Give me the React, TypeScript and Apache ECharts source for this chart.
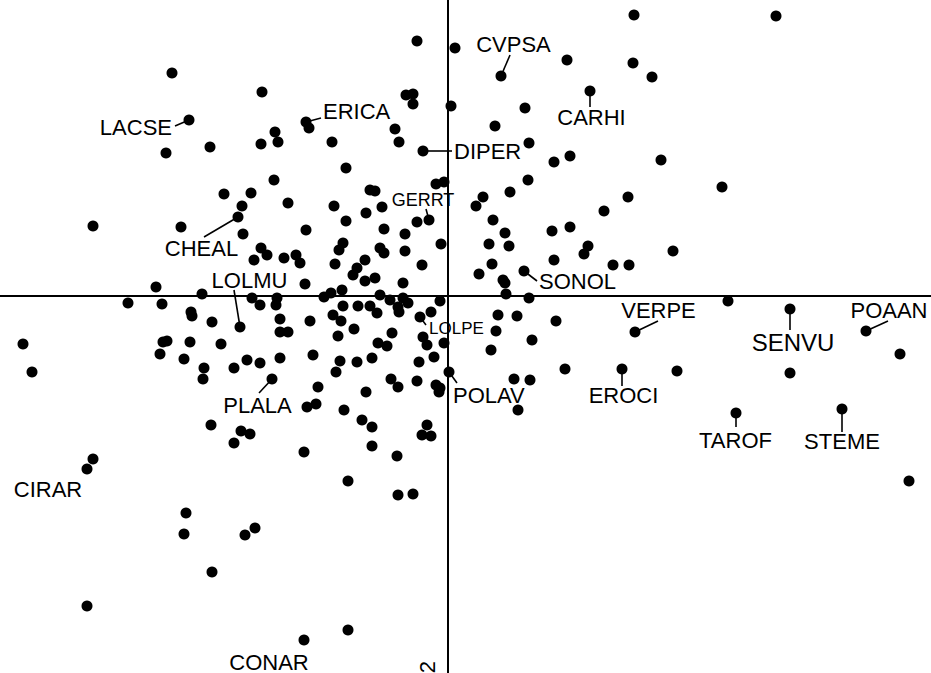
import React, { useEffect, useRef } from "react";
import * as echarts from "echarts";

// Site scores (unlabelled points)
const siteX = [
  -2.76, -2.82, -2.38, -2.24, -3.55, -2.67, -0.31, 0.07, -1.86, -0.42, -0.35, -0.35, 0.03, -1.39, -1.73, -1.87, -1.70, -1.16, -0.53, -0.49,
  -1.02, -1.74, -1.97, -2.06, -1.60, -1.14, -0.78, -0.73, -0.12, -0.04, -0.66, -0.82, -1.02, -0.31, 1.86, 1.19, 1.85, 2.04, 0.77, 0.47,
  0.81, 1.06, 1.22, 2.13, 0.80, 0.62, 0.35, 0.28, 0.45, 1.80, 1.56, 1.22, 3.28, 2.74,
  -2.92, -3.20, -2.86, -2.46, -2.57, -2.56, -2.36, -4.25, -2.85, -2.81, -2.58, -2.27, -2.88, -2.64, -2.44, -2.45, -4.16, -2.14, -2.37, -2.14,
  -2.05, -1.42, -0.64, -0.43, -1.87, -1.81, -1.94, -1.64, -1.52, -1.48, -1.13, -1.05, -1.09, -0.68, -0.64, -0.43, -0.83, -0.91, -0.95, -0.83,
  -0.73, -0.26, -0.07, -1.43, -0.45, -1.96, -1.88, -1.71, -1.72, -1.24, -1.17, -1.06, -1.05, -1.15, -1.07, -0.90, -0.78, -0.71, -0.68, -0.58,
  -0.50, -0.49, -0.45, -0.40, -0.17, -0.08, -1.68, -1.68, -1.60, -1.38, -0.94, -1.10, -0.56, -0.25, -0.21, -0.04, -0.70, -0.61, -1.35, -1.68,
  -2.01, -1.88, -1.08, -0.91, -0.76, -0.29, -0.14, -1.12, -0.57, -0.50, -0.31, -0.12, -0.08, -0.09, -1.30, -0.82, -1.41, -1.32, -1.04, -0.86,
  -0.76, -0.21, -0.26, -0.17, -2.07, -1.98, -0.76, -1.44,
  0.57, 1.04, 0.41, 0.61, 1.40, 1.36, 2.25, 0.44, 1.06, 1.65, 1.81, 0.31, 0.55, 0.57, 0.58, 0.81, 0.50, 0.69, 1.08, 0.48,
  0.84, 0.43, 1.17, 2.29, 0.66, 0.82, 0.70,
  2.80, 4.52, 3.42,
  -3.55, -2.62, -2.64, -2.36, -3.61,
  -0.51, -1.00, -0.50, -0.35, -2.03, -1.93, -1.00,
  4.61,
];
const siteY = [
  2.23, 1.43, 1.49, 1.02, 0.70, 0.69, 2.55, 2.48, 2.04, 2.01, 2.02, 1.92, 1.90, 1.68, 1.64, 1.52, 1.54, 1.54, 1.67, 1.54,
  1.28, 1.16, 1.03, 0.90, 0.93, 0.90, 1.06, 1.05, 1.12, 1.14, 0.89, 0.83, 0.75, 0.74, 2.81, 2.36, 2.33, 2.19, 1.88, 1.70,
  1.53, 1.34, 1.40, 1.36, 1.16, 1.04, 0.99, 0.90, 0.76, 0.99, 0.85, 0.69, 2.80, 1.09,
  0.09, -0.07, -0.08, 0.02, -0.16, -0.20, -0.26, -0.48, -0.46, -0.45, -0.46, -0.48, -0.58, -0.63, -0.72, -0.83, -0.76, -0.72, -1.29, -1.47,
  0.62, 0.66, 0.67, 0.62, 0.48, 0.41, 0.36, 0.38, 0.41, 0.33, 0.32, 0.53, 0.46, 0.48, 0.43, 0.45, 0.36, 0.28, 0.21, 0.15,
  0.18, 0.31, 0.52, 0.12, 0.13, -0.02, -0.09, -0.02, -0.09, -0.01, 0.03, 0.06, -0.10, -0.19, -0.25, -0.10, -0.10, -0.17, 0.01, -0.04,
  -0.11, -0.16, -0.02, -0.07, -0.16, -0.05, -0.23, -0.36, -0.36, -0.25, -0.33, -0.40, -0.37, -0.41, -0.49, -0.47, -0.47, -0.50, -0.59, -0.62,
  -0.64, -0.67, -0.65, -0.66, -0.62, -0.66, -0.61, -0.76, -0.83, -0.91, -0.85, -0.89, -0.92, -0.96, -0.91, -0.96, -1.11, -1.08, -1.14, -1.24,
  -1.31, -1.29, -1.39, -1.40, -1.35, -1.38, -1.50, -1.56,
  0.63, 0.65, 0.52, 0.50, 0.50, 0.42, 0.45, 0.32, 0.36, 0.31, 0.31, 0.22, 0.16, 0.13, 0.02, -0.02, -0.19, -0.20, -0.25, -0.35,
  -0.44, -0.54, -0.73, -0.75, -0.83, -0.84, -1.14,
  -0.05, -0.58, -0.77,
  -1.63, -2.17, -2.38, -2.76, -3.10,
  -1.60, -1.85, -1.99, -1.98, -2.39, -2.32, -3.34,
  -1.85,
];

// Species scores (labelled points)
const speciesNames = [
  "LACSE", "ERICA", "CVPSA", "CARHI", "DIPER", "GERRT", "CHEAL", "SONOL", "LOLMU", "LOLPE",
  "VERPE", "SENVU", "POAAN", "POLAV", "EROCI", "TAROF", "STEME", "PLALA", "CIRAR", "CONAR",
];
const speciesX = [-2.59, -1.42, 0.53, 1.42, -0.25, -0.19, -2.10, 0.76, -2.08, -0.28, 1.87, 3.42, 4.18, 0.01, 1.74, 2.88, 3.94, -1.76, -3.61, -1.44];
const speciesY = [1.76, 1.74, 2.20, 2.05, 1.45, 0.76, 0.79, 0.25, -0.31, -0.21, -0.36, -0.13, -0.35, -0.76, -0.73, -1.17, -1.13, -0.83, -1.73, -3.44];

// Axis ranges
const xRange = [-4.48, 4.83];
const yRange = [-3.77, 2.96];
const axisTitle = "2";

// Label layout (pixel offsets from the point): [lineDx, lineDy, textDx, textDy, align, fontSize]
const labelLayout: Record<string, [number, number, number, number, string, number]> = {
  LACSE: [-14, 6, -17, 7, "right", 22],
  ERICA: [15, -4, 17, -11, "left", 22],
  CVPSA: [9, -21, 12.5, -31.5, "center", 22],
  CARHI: [0, 16, 1.5, 26, "center", 22],
  DIPER: [29, 0, 31, 0, "left", 22],
  GERRT: [-3, -11, -6, -20, "center", 18],
  CHEAL: [-34, 20, -36.5, 31.5, "center", 22],
  SONOL: [13, 10, 15, 10, "left", 22],
  LOLMU: [-6, -37, 9.5, -47, "center", 22],
  LOLPE: [6, 8, 9, 11, "left", 17],
  VERPE: [23, -11, 23.5, -22, "center", 22],
  SENVU: [0, 21, 3, 33.5, "center", 24],
  POAAN: [22, -10, 23, -21, "center", 22],
  POLAV: [8, 11, 4, 23, "left", 22],
  EROCI: [0, 17, 1.5, 26, "center", 22],
  TAROF: [0, 14, -0.5, 27, "center", 22],
  STEME: [0, 23, 0, 32.5, "center", 22],
  PLALA: [-13, 14, -14.5, 26, "center", 22],
  CIRAR: [0, 0, -39, 20, "center", 22],
  CONAR: [0, 0, -35, 22, "center", 22],
};

const FONT = '"Liberation Sans", Arial, sans-serif';

export default function App() {
  const ref = useRef<HTMLDivElement>(null);
  useEffect(() => {
    document.body.style.margin = "0";
    if (!ref.current) return;
    const chart = echarts.init(ref.current, undefined, { renderer: "svg" });
    const sites = siteX.map((x, i) => [x, siteY[i]]);
    const species = speciesX.map((x, i) => [x, speciesY[i], i]);
    chart.setOption({
      animation: false,
      backgroundColor: "#ffffff",
      grid: { left: 0, right: 0, top: 0, bottom: 0, containLabel: false },
      xAxis: {
        type: "value",
        min: xRange[0],
        max: xRange[1],
        axisLine: { show: true, onZero: true, lineStyle: { color: "#000", width: 2 } },
        axisTick: { show: false },
        axisLabel: { show: false },
        splitLine: { show: false },
      },
      yAxis: {
        type: "value",
        min: yRange[0],
        max: yRange[1],
        axisLine: { show: true, onZero: true, lineStyle: { color: "#000", width: 2 } },
        axisTick: { show: false },
        axisLabel: { show: false },
        splitLine: { show: false },
      },
      series: [
        {
          type: "custom",
          z: 1,
          clip: false,
          data: species,
          renderItem: (params: any, api: any) => {
            const p = api.coord([api.value(0), api.value(1)]);
            const name = speciesNames[api.value(2)];
            const [lx, ly, tx, ty, align, fs] = labelLayout[name];
            const children: any[] = [];
            if (lx !== 0 || ly !== 0) {
              children.push({
                type: "line",
                shape: { x1: p[0], y1: p[1], x2: p[0] + lx, y2: p[1] + ly },
                style: { stroke: "#000", lineWidth: 1.6 },
              });
            }
            children.push({
              type: "text",
              x: p[0] + tx,
              y: p[1] + ty,
              style: {
                text: name,
                fill: "#000",
                fontSize: fs,
                fontFamily: FONT,
                align,
                verticalAlign: "middle",
              },
            });
            return { type: "group", children };
          },
        },
        {
          type: "scatter",
          z: 3,
          symbol: "circle",
          symbolSize: 11,
          itemStyle: { color: "#000", opacity: 1 },
          emphasis: { disabled: true },
          data: sites,
        },
        {
          type: "scatter",
          z: 3,
          symbol: "circle",
          symbolSize: 11,
          itemStyle: { color: "#000", opacity: 1 },
          emphasis: { disabled: true },
          data: species.map((d) => [d[0], d[1]]),
        },
      ],
      graphic: [
        {
          type: "text",
          x: 427,
          y: 667,
          rotation: Math.PI / 2,
          style: {
            text: axisTitle,
            fill: "#000",
            fontSize: 22,
            fontFamily: FONT,
            align: "center",
            verticalAlign: "middle",
          },
        },
      ],
    });
    return () => chart.dispose();
  }, []);
  return (
    <div
      ref={ref}
      style={{ position: "absolute", left: 0, top: 0, width: 931, height: 673, background: "#fff" }}
    />
  );
}
